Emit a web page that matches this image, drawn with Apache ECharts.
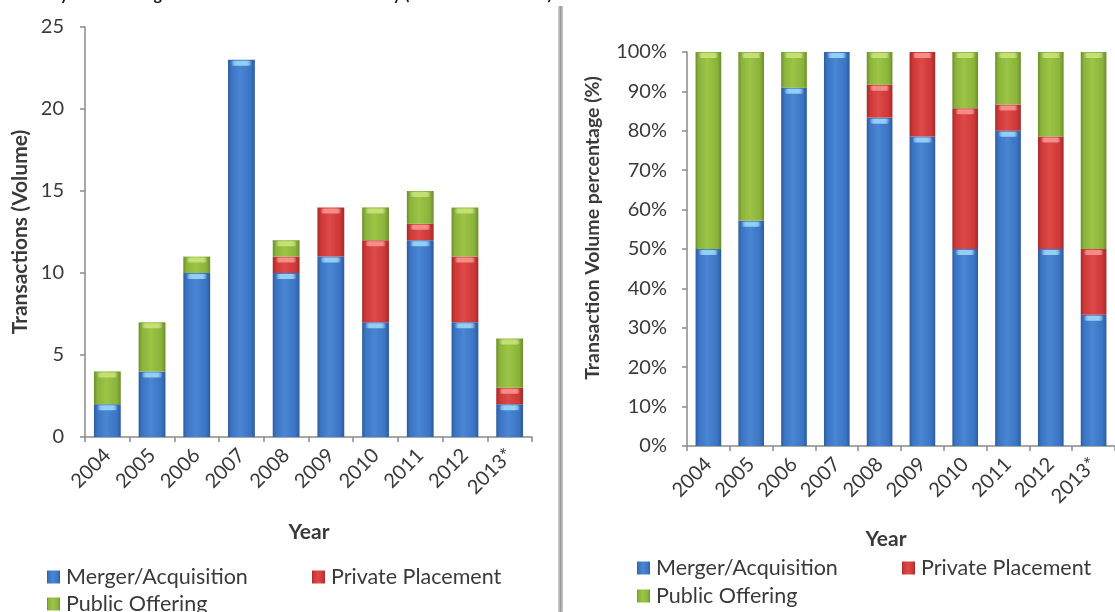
<!DOCTYPE html>
<html>
<head>
<meta charset="utf-8">
<script src="https://cdn.jsdelivr.net/npm/echarts@6/dist/echarts.min.js"></script>
<style>
  html, body { margin: 0; padding: 0; background: #ffffff; }
  #chart { width: 1115px; height: 612px; }
</style>
</head>
<body>
<div id="chart"></div>
<script>
// Transaction counts by type and year
const years = ['2004', '2005', '2006', '2007', '2008', '2009', '2010', '2011', '2012', '2013*'];
const mergerAcquisition = [2, 4, 10, 23, 10, 11, 7, 12, 7, 2];
const privatePlacement  = [0, 0, 0, 0, 1, 3, 5, 1, 4, 1];
const publicOffering    = [2, 3, 1, 0, 1, 0, 2, 2, 3, 3];
const volumeTicks = [0, 5, 10, 15, 20, 25];

const seriesNames = ['Merger/Acquisition', 'Private Placement', 'Public Offering'];
const counts = [mergerAcquisition, privatePlacement, publicOffering];

// 100% stacked view: each type's share of the year's total
const totals = years.map((_, i) => counts.reduce((s, arr) => s + arr[i], 0));
const shares = counts.map(arr => arr.map((v, i) => v / totals[i] * 100));

const FONT = 'Lato, "Open Sans", sans-serif';
const TEXT = '#3a3a3a';

function barGradient(dark, mid, light) {
  return new echarts.graphic.LinearGradient(0, 0, 1, 0, [
    { offset: 0, color: dark },
    { offset: 0.12, color: mid },
    { offset: 0.45, color: light },
    { offset: 0.85, color: mid },
    { offset: 1, color: dark }
  ]);
}
const fills = [
  barGradient('#2b5c9e', '#3a74c2', '#4a86d4'),
  barGradient('#a42a2a', '#cc3737', '#de4a48'),
  barGradient('#6c8e2a', '#8ab33a', '#9cc446')
];
const capColors = ['#8fd0f4', '#f58c86', '#c4e070'];

function stackedBars(values, xIdx, yIdx) {
  return seriesNames.map((name, k) => ({
    name: name,
    type: 'bar',
    stack: 'total' + xIdx,
    xAxisIndex: xIdx,
    yAxisIndex: yIdx,
    barWidth: '60%',
    data: values[k],
    itemStyle: { color: fills[k] },
    emphasis: { disabled: true },
    z: 2
  }));
}

// Glossy highlight strip drawn at the top of each stacked segment
function capSeries(values, xIdx, yIdx) {
  return {
    type: 'custom',
    xAxisIndex: xIdx,
    yAxisIndex: yIdx,
    z: 3,
    silent: true,
    data: years.map((_, i) => i),
    renderItem: function (params, api) {
      const i = api.value(0);
      const bw = api.size([1, 0])[0] * 0.6;
      const children = [];
      let cum = 0;
      for (let k = 0; k < values.length; k++) {
        const v = values[k][i];
        if (v <= 0) continue;
        cum += v;
        const p = api.coord([i, cum]);
        children.push({
          type: 'rect',
          shape: { x: p[0] - bw / 2 + 3, y: p[1] + 1, width: bw - 6, height: 5, r: 2.5 },
          style: {
            fill: new echarts.graphic.LinearGradient(0, 0, 1, 0, [
              { offset: 0, color: 'rgba(255,255,255,0)' },
              { offset: 0.25, color: capColors[k] },
              { offset: 0.75, color: capColors[k] },
              { offset: 1, color: 'rgba(255,255,255,0)' }
            ])
          }
        });
      }
      return { type: 'group', children: children };
    }
  };
}

const axisLine = { show: true, lineStyle: { color: '#8a8a8a', width: 1.5 } };
const axisTick = { show: true, length: 5, lineStyle: { color: '#8a8a8a', width: 1.5 } };
const boldTitle = size => ({ color: TEXT, fontSize: size, fontWeight: 'bold', fontFamily: FONT });

const option = {
  animation: false,
  backgroundColor: '#ffffff',
  textStyle: { fontFamily: FONT },
  grid: [
    { left: 85, top: 27, width: 447, height: 410 },
    { left: 687, top: 52, width: 435, height: 394 }
  ],
  xAxis: [0, 1].map(g => ({
    type: 'category',
    gridIndex: g,
    data: years,
    axisLine: axisLine,
    axisTick: axisTick,
    axisLabel: { rotate: 45, color: TEXT, fontSize: 20, fontFamily: FONT, margin: 15 }
  })),
  yAxis: [
    {
      type: 'value', gridIndex: 0, min: 0, max: 25, interval: 5,
      axisLine: axisLine, axisTick: axisTick, splitLine: { show: false },
      axisLabel: { color: TEXT, fontSize: 20, fontFamily: FONT, margin: 21 }
    },
    {
      type: 'value', gridIndex: 1, min: 0, max: 100, interval: 10,
      axisLine: axisLine, axisTick: axisTick, splitLine: { show: false },
      axisLabel: { color: TEXT, fontSize: 20, fontFamily: FONT, margin: 20, formatter: '{value}%' }
    }
  ],
  legend: [
    { name: seriesNames[0], left: 47, top: 566 },
    { name: seriesNames[1], left: 312, top: 566 },
    { name: seriesNames[2], left: 47, top: 593 },
    { name: seriesNames[0], left: 637, top: 557 },
    { name: seriesNames[1], left: 902, top: 557 },
    { name: seriesNames[2], left: 637, top: 585 }
  ].map(l => ({
    data: [l.name],
    left: l.left,
    top: l.top,
    padding: 0,
    icon: 'rect',
    itemWidth: 13,
    itemHeight: 13,
    itemGap: 6,
    selectedMode: false,
    textStyle: { color: TEXT, fontSize: 21.5, fontFamily: FONT, padding: [0, 0, 0, 1] }
  })),
  graphic: [
    {
      type: 'rect',
      shape: { x: 558, y: 6, width: 5, height: 612 },
      style: {
        fill: new echarts.graphic.LinearGradient(0, 0, 1, 0, [
          { offset: 0, color: '#d8d8d8' },
          { offset: 0.5, color: '#9c9c9c' },
          { offset: 1, color: '#d0d0d0' }
        ])
      }
    },
    {
      type: 'text',
      right: 1115 - 552,
      top: -13,
      style: {
        text: 'Transaction Activity in the Biological Based Animal Health Industry (Volume 2004-2013)',
        font: 'bold 16px ' + FONT,
        fill: '#111111'
      }
    },
    // axis titles
    {
      type: 'text', x: 20, y: 232, rotation: Math.PI / 2,
      style: Object.assign({ text: 'Transactions (Volume)', align: 'center', verticalAlign: 'middle', fill: TEXT,
        font: 'bold 21px ' + FONT })
    },
    {
      type: 'text', x: 593, y: 228, rotation: Math.PI / 2,
      style: { text: 'Transaction Volume percentage (%)', align: 'center', verticalAlign: 'middle', fill: TEXT,
        font: 'bold 19.5px ' + FONT }
    },
    {
      type: 'text', x: 309, y: 532,
      style: { text: 'Year', align: 'center', verticalAlign: 'middle', fill: TEXT, font: 'bold 21px ' + FONT }
    },
    {
      type: 'text', x: 886, y: 539,
      style: { text: 'Year', align: 'center', verticalAlign: 'middle', fill: TEXT, font: 'bold 21px ' + FONT }
    }
  ],
  series: [
    ...stackedBars(counts, 0, 0),
    capSeries(counts, 0, 0),
    ...stackedBars(shares, 1, 1),
    capSeries(shares, 1, 1)
  ]
};

const chart = echarts.init(document.getElementById('chart'), null, { renderer: 'canvas' });
chart.setOption(option);
</script>
</body>
</html>
